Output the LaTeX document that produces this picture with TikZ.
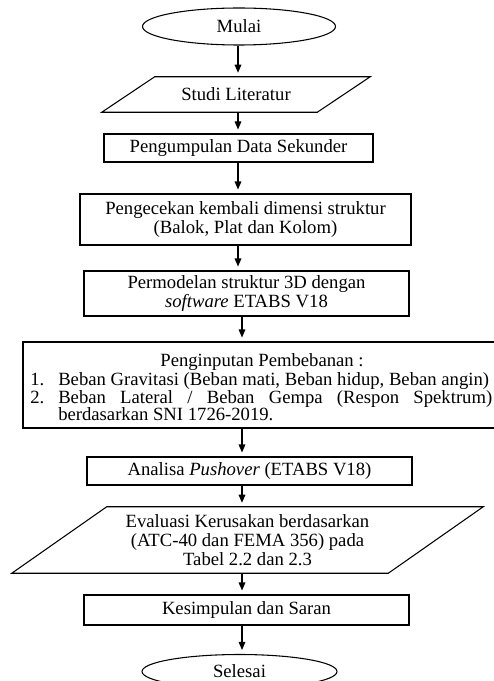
\documentclass[tikz,border=0pt]{standalone}
\usepackage{fontspec}
\setmainfont{Liberation Serif}
\usetikzlibrary{shapes.geometric,arrows.meta}
\begin{document}
\begin{tikzpicture}[x=0.75pt,y=-0.75pt,
  every node/.style={font=\fontsize{14pt}{13.9pt}\selectfont, inner sep=0pt},
  box/.style={draw, line width=0.8pt, rectangle, align=center},
  term/.style={draw, line width=0.8pt, ellipse, align=center},
  plainshape/.style={rectangle, align=center},
  listtext/.style={anchor=base west},
  shp/.style={line width=0.8pt, line join=miter},
  arr/.style={line width=0.8pt, -{Triangle[length=6pt,width=5pt]}, shorten >=3pt}]
\useasboundingbox (0,0) rectangle (493,681);

\coordinate (colA) at (238,0);
\coordinate (colB) at (242,0);

\node[term, minimum width=144.75pt, minimum height=27.75pt] (mulai) at (239,26.5) {Mulai};

\node[plainshape, minimum width=161.25pt, minimum height=26.25pt] (studi) at (236,94.5) {Studi Literatur};
\draw[shp] ([xshift=19.875pt]studi.north west) -- ([xshift=19.875pt]studi.north east)
  -- ([xshift=-19.875pt]studi.south east) -- ([xshift=-19.875pt]studi.south west) -- cycle;

\node[box, minimum width=201.75pt, minimum height=21pt] (kumpul) at (238.5,148) {Pengumpulan Data Sekunder};

\node[box, minimum width=248.25pt, minimum height=38.25pt] (cek) at (245.5,219.5)
  {Pengecekan kembali dimensi struktur\\(Balok, Plat dan Kolom)};

\node[box, minimum width=243.75pt, minimum height=33.75pt] (model) at (246.5,293.5)
  {Permodelan struktur 3D dengan\\\textit{software} ETABS V18};

\node[draw, line width=0.8pt, rectangle, minimum width=361.5pt, minimum height=64.5pt] (input) at (264,385) {};
\node[anchor=base] (intitle) at (262,366.5) {Penginputan Pembebanan :};
\node[listtext] (innum1) at (30,385.5) {1.};
\node[listtext] (initem1) at (58,385.5) {Beban Gravitasi (Beban mati, Beban hidup, Beban angin)};
\node[listtext] (innum2) at (30,403) {2.};
\node[listtext] (initem2) at (58,403) {\makebox[325.5pt][s]{Beban Lateral / Beban Gempa (Respon Spektrum)}};
\node[listtext] (initem2b) at (58,420.5) {berdasarkan SNI 1726-2019.};

\node[box, minimum width=243.75pt, minimum height=21pt] (analisa) at (249.5,471)
  {Analisa \textit{Pushover} (ETABS V18)};

\node[plainshape, minimum width=282pt, minimum height=49.5pt,
  font=\fontsize{14pt}{14.4pt}\selectfont] (eval) at (247.5,540)
  {Evaluasi Kerusakan berdasarkan\\(ATC-40 dan FEMA 356) pada\\Tabel 2.2 dan 2.3};
\draw[shp] ([xshift=35.625pt]eval.north west) -- ([xshift=35.625pt]eval.north east)
  -- ([xshift=-35.625pt]eval.south east) -- ([xshift=-35.625pt]eval.south west) -- cycle;

\node[box, minimum width=243.75pt, minimum height=22.5pt] (simpul) at (246.5,610)
  {Kesimpulan dan Saran};

\node[term, minimum width=146.25pt, minimum height=25.5pt] (selesai) at (239.5,671.5) {Selesai};

\draw[arr] (mulai.south -| colA) -- (studi.north -| colA);
\draw[arr] (studi.south -| colA) -- (kumpul.north -| colA);
\draw[arr] (kumpul.south -| colA) -- (cek.north -| colA);
\draw[arr] (cek.south -| colA) -- (model.north -| colA);
\draw[arr] (model.south -| colB) -- (input.north -| colB);
\draw[arr] (input.south -| colB) -- (analisa.north -| colB);
\draw[arr] (analisa.south -| colB) -- (eval.north -| colB);
\draw[arr] (eval.south -| colB) -- (simpul.north -| colB);
\draw[arr] (simpul.south -| colB) -- (selesai.north -| colB);
\end{tikzpicture}
\end{document}
